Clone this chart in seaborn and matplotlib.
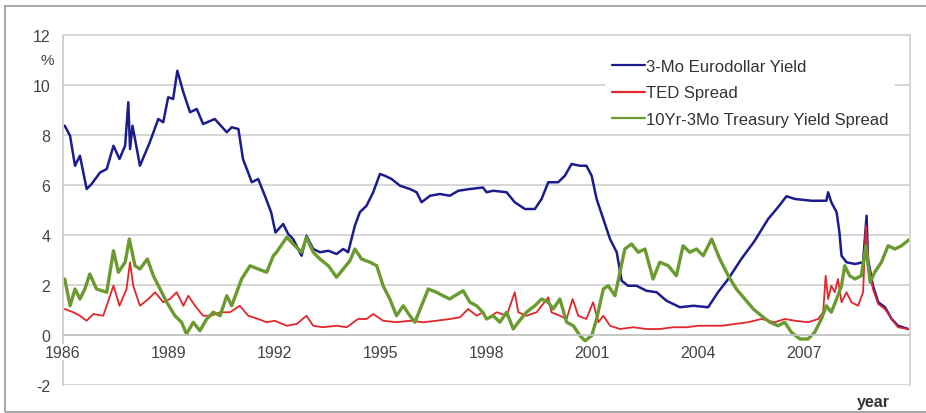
import numpy as np
import pandas as pd
import seaborn as sns
import matplotlib
matplotlib.use("Agg")
import matplotlib.pyplot as plt
from matplotlib.patches import Rectangle

# ---- data (year, percent) ----
euro_year = [1986.05, 1986.2, 1986.34, 1986.48, 1986.67, 1986.81, 1987.05, 1987.24, 1987.43, 1987.6,
             1987.76, 1987.85, 1987.9, 1987.97, 1988.18, 1988.46, 1988.7, 1988.84, 1988.98, 1989.12,
             1989.24, 1989.41, 1989.6, 1989.79, 1989.97, 1990.3, 1990.64, 1990.78, 1990.97, 1991.1,
             1991.35, 1991.53, 1991.72, 1991.9, 1992.02, 1992.24, 1992.38, 1992.52, 1992.76, 1992.9,
             1993.09, 1993.28, 1993.52, 1993.75, 1993.94, 1994.08, 1994.27, 1994.41, 1994.6, 1994.79,
             1994.98, 1995.12, 1995.31, 1995.55, 1995.83, 1996.02, 1996.16, 1996.4, 1996.68, 1996.96,
             1997.2, 1997.53, 1997.9, 1998.0, 1998.19, 1998.57, 1998.8, 1999.09, 1999.37, 1999.56,
             1999.75, 2000.03, 2000.22, 2000.41, 2000.65, 2000.83, 2000.98, 2001.12, 2001.31, 2001.5,
             2001.69, 2001.83, 2002.01, 2002.25, 2002.53, 2002.82, 2003.1, 2003.48, 2003.86, 2004.28,
             2004.56, 2004.85, 2005.22, 2005.6, 2005.98, 2006.26, 2006.5, 2006.74, 2007.21, 2007.63,
             2007.68, 2007.77, 2007.92, 2008.0, 2008.06, 2008.2, 2008.44, 2008.67, 2008.77, 2008.81,
             2008.95, 2009.1, 2009.29, 2009.48, 2009.66, 2009.95]
euro_val = [8.37, 7.97, 6.77, 7.17, 5.84, 6.04, 6.5, 6.64, 7.57, 7.04,
            7.57, 9.31, 7.44, 8.37, 6.77, 7.71, 8.64, 8.51, 9.51, 9.44,
            10.57, 9.71, 8.91, 9.04, 8.44, 8.64, 8.11, 8.31, 8.24, 7.04,
            6.11, 6.24, 5.57, 4.9, 4.1, 4.44, 4.04, 3.84, 3.17, 3.97,
            3.44, 3.31, 3.37, 3.24, 3.44, 3.31, 4.37, 4.91, 5.17, 5.71,
            6.44, 6.37, 6.24, 5.97, 5.84, 5.71, 5.31, 5.57, 5.64, 5.57,
            5.77, 5.84, 5.9, 5.71, 5.77, 5.71, 5.31, 5.04, 5.04, 5.44,
            6.11, 6.11, 6.37, 6.84, 6.77, 6.77, 6.37, 5.44, 4.64, 3.84,
            3.31, 2.17, 1.97, 1.97, 1.77, 1.71, 1.37, 1.11, 1.17, 1.11,
            1.71, 2.24, 3.04, 3.77, 4.64, 5.11, 5.55, 5.44, 5.37, 5.37,
            5.71, 5.31, 4.91, 4.11, 3.17, 2.91, 2.84, 2.91, 4.77, 3.04,
            1.97, 1.31, 1.11, 0.64, 0.37, 0.24]

ted_year = [1986.05, 1986.29, 1986.48, 1986.67, 1986.86, 1987.14, 1987.43, 1987.6, 1987.8, 1987.9,
            1987.99, 1988.18, 1988.42, 1988.61, 1988.84, 1989.03, 1989.22, 1989.41, 1989.55, 1989.74,
            1989.97, 1990.2, 1990.45, 1990.73, 1991.01, 1991.25, 1991.53, 1991.77, 1992.0, 1992.34,
            1992.62, 1992.9, 1993.09, 1993.37, 1993.75, 1994.04, 1994.36, 1994.6, 1994.79, 1995.07,
            1995.45, 1995.83, 1996.21, 1996.58, 1996.96, 1997.25, 1997.48, 1997.72, 1997.9, 1998.0,
            1998.29, 1998.57, 1998.8, 1998.9, 1999.13, 1999.42, 1999.75, 1999.84, 2000.08, 2000.27,
            2000.44, 2000.6, 2000.83, 2001.02, 2001.17, 2001.31, 2001.5, 2001.78, 2002.16, 2002.53,
            2002.91, 2003.29, 2003.67, 2004.0, 2004.28, 2004.66, 2005.04, 2005.41, 2005.79, 2006.17,
            2006.45, 2006.74, 2007.11, 2007.4, 2007.54, 2007.61, 2007.68, 2007.77, 2007.87, 2007.96,
            2008.06, 2008.2, 2008.34, 2008.53, 2008.67, 2008.75, 2008.83, 2008.95, 2009.1, 2009.29,
            2009.48, 2009.66, 2009.95]
ted_val = [1.04, 0.91, 0.77, 0.57, 0.84, 0.77, 1.97, 1.17, 1.84, 2.91,
           1.97, 1.17, 1.44, 1.71, 1.31, 1.44, 1.71, 1.17, 1.57, 1.17,
           0.77, 0.77, 0.91, 0.91, 1.17, 0.77, 0.64, 0.51, 0.57, 0.37,
           0.44, 0.77, 0.37, 0.31, 0.37, 0.31, 0.64, 0.64, 0.84, 0.57,
           0.51, 0.57, 0.51, 0.57, 0.64, 0.71, 1.04, 0.77, 0.91, 0.64,
           0.91, 0.77, 1.71, 0.91, 0.77, 0.91, 1.51, 0.91, 0.77, 0.64,
           1.44, 0.77, 0.64, 1.31, 0.51, 0.77, 0.37, 0.24, 0.31, 0.24,
           0.24, 0.31, 0.31, 0.37, 0.37, 0.37, 0.44, 0.51, 0.64, 0.51,
           0.64, 0.57, 0.51, 0.64, 0.91, 2.37, 1.44, 1.97, 1.71, 2.24,
           1.31, 1.71, 1.31, 1.17, 1.71, 4.37, 2.77, 1.84, 1.24, 1.04,
           0.64, 0.31, 0.24]

slope_year = [1986.05, 1986.2, 1986.34, 1986.48, 1986.62, 1986.76, 1986.95, 1987.24, 1987.43, 1987.57,
              1987.76, 1987.88, 1988.04, 1988.18, 1988.39, 1988.56, 1988.75, 1988.94, 1989.17, 1989.36,
              1989.5, 1989.69, 1989.88, 1990.07, 1990.26, 1990.45, 1990.64, 1990.78, 1990.92, 1991.06,
              1991.3, 1991.53, 1991.77, 1991.96, 1992.05, 1992.34, 1992.57, 1992.76, 1992.9, 1993.09,
              1993.28, 1993.52, 1993.75, 1993.94, 1994.13, 1994.27, 1994.46, 1994.7, 1994.89, 1995.07,
              1995.26, 1995.45, 1995.64, 1995.83, 1995.97, 1996.16, 1996.35, 1996.58, 1996.77, 1996.96,
              1997.1, 1997.34, 1997.53, 1997.72, 1997.9, 1998.0, 1998.19, 1998.38, 1998.57, 1998.76,
              1998.9, 1999.13, 1999.37, 1999.56, 1999.75, 1999.89, 2000.08, 2000.27, 2000.46, 2000.65,
              2000.79, 2000.98, 2001.12, 2001.31, 2001.45, 2001.64, 2001.78, 2001.92, 2002.11, 2002.3,
              2002.49, 2002.72, 2002.91, 2003.15, 2003.38, 2003.57, 2003.76, 2003.95, 2004.14, 2004.38,
              2004.61, 2004.85, 2005.08, 2005.32, 2005.56, 2005.79, 2006.03, 2006.26, 2006.45, 2006.64,
              2006.88, 2007.11, 2007.3, 2007.49, 2007.63, 2007.77, 2007.92, 2008.06, 2008.15, 2008.29,
              2008.44, 2008.62, 2008.75, 2008.87, 2009.0, 2009.19, 2009.38, 2009.57, 2009.76, 2010.0]
slope_val = [2.24, 1.17, 1.84, 1.44, 1.84, 2.44, 1.84, 1.71, 3.37, 2.51,
             2.91, 3.84, 2.77, 2.64, 3.04, 2.37, 1.84, 1.31, 0.77, 0.51,
             0.04, 0.51, 0.17, 0.64, 0.91, 0.77, 1.57, 1.17, 1.71, 2.24,
             2.77, 2.64, 2.51, 3.17, 3.31, 3.91, 3.57, 3.31, 3.91, 3.31,
             3.04, 2.77, 2.31, 2.64, 2.97, 3.44, 3.04, 2.91, 2.77, 1.97,
             1.44, 0.77, 1.17, 0.77, 0.51, 1.17, 1.84, 1.71, 1.57, 1.44,
             1.57, 1.77, 1.31, 1.17, 0.9, 0.64, 0.77, 0.51, 0.91, 0.24,
             0.51, 0.91, 1.17, 1.44, 1.31, 1.04, 1.44, 0.51, 0.37, -0.03,
             -0.23, -0.03, 0.64, 1.84, 1.97, 1.57, 2.51, 3.44, 3.64, 3.31,
             3.44, 2.24, 2.91, 2.77, 2.37, 3.57, 3.31, 3.44, 3.17, 3.84,
             3.04, 2.37, 1.84, 1.44, 1.04, 0.77, 0.51, 0.37, 0.51, 0.11,
             -0.16, -0.16, 0.11, 0.64, 1.17, 0.91, 1.44, 1.97, 2.77, 2.37,
             2.24, 2.37, 3.57, 2.11, 2.51, 2.91, 3.57, 3.44, 3.57, 3.84]

series_names = ["3-Mo Eurodollar Yield", "TED Spread", "10Yr-3Mo Treasury Yield Spread"]
series_colors = ["#1c1c8c", "#e3262b", "#6b9a30"]
series_widths = [1.8, 1.3, 2.4]
year_ticks = [1986, 1989, 1992, 1995, 1998, 2001, 2004, 2007]
pct_ticks = [-2, 0, 2, 4, 6, 8, 10, 12]

frames = []
for name, yrs, vals in zip(series_names,
                           [euro_year, ted_year, slope_year],
                           [euro_val, ted_val, slope_val]):
    frames.append(pd.DataFrame({"year": yrs, "value": vals, "series": name}))
df = pd.concat(frames, ignore_index=True)

sns.set_style("white")
plt.rcParams["font.family"] = ["Liberation Sans", "DejaVu Sans"]
plt.rcParams["axes.unicode_minus"] = False

fig = plt.figure(figsize=(9.26, 4.14), dpi=100)
ax = fig.add_axes([63 / 926, 28 / 414, 847 / 926, 350 / 414])

for name, c, w in zip(series_names, series_colors, series_widths):
    sns.lineplot(data=df[df["series"] == name], x="year", y="value", color=c, lw=w,
                 ax=ax, label=name, estimator=None, sort=False)

ax.set_xlim(1986, 2010)
ax.set_ylim(-2, 12)
ax.set_yticks(pct_ticks)
ax.set_yticklabels([str(t) for t in pct_ticks])
ax.set_xticks(year_ticks)
ax.set_xticklabels([str(t) for t in year_ticks])
ax.set_xlabel("")
ax.set_ylabel("")

ax.yaxis.grid(True, color="#d6d6d6", lw=1.4)
ax.xaxis.grid(False)
ax.set_axisbelow(True)

ax.spines["bottom"].set_position(("data", 0))
ax.spines["bottom"].set_color("#c4c4c4")
ax.spines["bottom"].set_linewidth(1.2)
ax.spines["left"].set_color("#c8c8c8")
ax.spines["left"].set_linewidth(1.2)
for s in ["top", "right"]:
    ax.spines[s].set_color("#d6d6d6")
    ax.spines[s].set_linewidth(1.4)

ax.tick_params(axis="x", length=3, width=1, color="#c4c4c4", pad=4,
               labelsize=11.5, labelcolor="#444444")
ax.tick_params(axis="y", length=0, pad=9, labelsize=11.5, labelcolor="#444444")
# year labels sit on a white patch so the value axis does not run through "1986"
for lab in ax.get_xticklabels():
    lab.set_bbox(dict(facecolor="white", edgecolor="none", pad=0.5))
ax.xaxis.set_zorder(3)

leg = ax.legend(loc="upper left", bbox_to_anchor=(0.630, 0.975), frameon=True,
                facecolor="white", edgecolor="none", framealpha=1, fancybox=False,
                fontsize=12, handlelength=2.0, handletextpad=0.05,
                labelspacing=0.7, borderpad=0.4)
for t in leg.get_texts():
    t.set_color("#333333")
for h in leg.get_lines():
    h.set_linewidth(1.6)

fig.text(47.5 / 926, 1 - 61 / 414, "%", ha="center", va="center",
         fontsize=11, color="#444444")
fig.text(873 / 926, 1 - 403 / 414, "year", ha="center", va="center",
         fontsize=11.5, fontweight="bold", color="#333333")

fig.patches.append(Rectangle((5 / 926, 1 / 414), 1.0, (406 / 414), transform=fig.transFigure,
                             fill=False, edgecolor="#a0a0a0", lw=1.3))

fig.savefig("out.png", dpi=100)
